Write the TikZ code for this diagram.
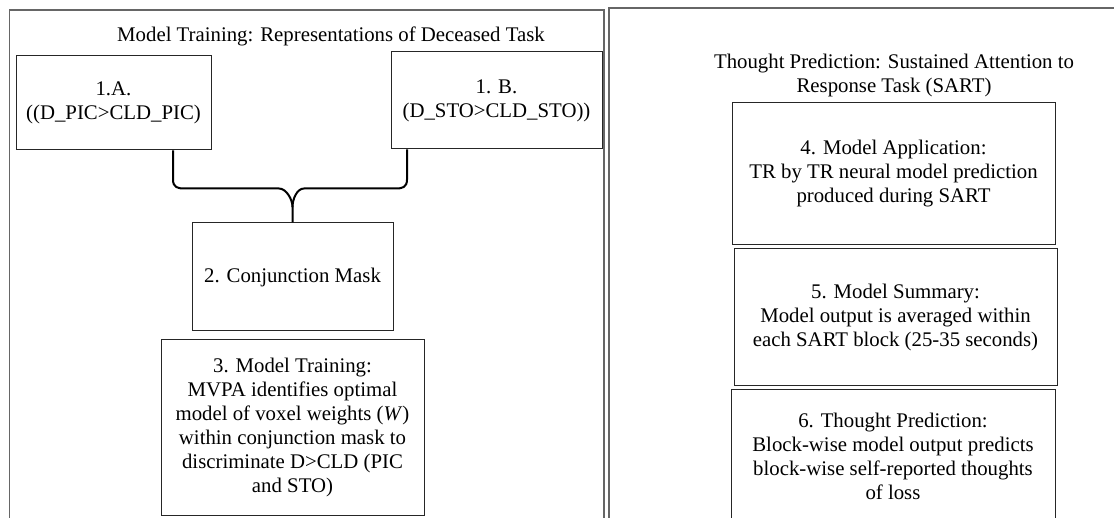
\documentclass[tikz,border=0pt]{standalone}
\usepackage{fontspec}
\setmainfont{Liberation Serif}
\begin{document}
\begin{tikzpicture}[x=1pt,y=-1pt,
  box/.style={draw=black!85,line width=1pt,inner sep=0pt,align=center,
    font=\fontsize{20.8}{24}\selectfont},
  txt/.style={inner sep=0pt,align=center,font=\fontsize{20.8}{24}\selectfont},
  panel/.style={draw=black!60,line width=1.8pt},
  brace/.style={draw=black,line width=2pt}]
\useasboundingbox (0,0) rectangle (1114,518);
\clip (0,0) rectangle (1114,518);
% panels
\draw[panel] (9.5,540) -- (9.5,10) -- (604,10) -- (604,540);
\draw[panel] (609,540) -- (609,8) -- (1130,8);
% left panel
\node[txt] (t1) at (331,36) {Model Training: Representations of Deceased Task};
\node[box,minimum width=195pt,minimum height=94pt] (a1) at (113.5,103)
  {1.A.\\((D\_PIC>CLD\_PIC)};
\node[box,minimum width=211pt,minimum height=97pt] (b1) at (496.5,100.5)
  {1. B.\\(D\_STO>CLD\_STO))};
\node[box,minimum width=201pt,minimum height=108pt] (c2) at (292.5,277)
  {2. Conjunction Mask};
\node[box,minimum width=263pt,minimum height=175pt] (c3) at (292.5,427.5)
  {3. Model Training:\\MVPA identifies optimal\\model of voxel weights (\textit{W})\\within conjunction mask to\\discriminate D>CLD (PIC\\and STO)};
% brace connector
\draw[brace] ([xshift=59.5pt]a1.south) -- ++(0,29)
  .. controls +(0,8) and +(-6,0) .. ++(11,9) -- ++(95,0)
  .. controls +(7,0) and +(0,-8) .. (c2.north |- 0,207) -- (c2.north);
\draw[brace] ([xshift=-89.5pt]b1.south) -- ++(0,30)
  .. controls +(0,8) and +(6,0) .. ++(-11,9) -- ++(-92,0)
  .. controls +(-7,0) and +(0,-8) .. (c2.north |- 0,207);
% right panel
\node[txt] (t2) at (894,75.5) {Thought Prediction: Sustained Attention to\\Response Task (SART)};
\node[box,minimum width=323pt,minimum height=142pt] (d4) at (893.5,174)
  {4. Model Application:\\TR by TR neural model prediction\\produced during SART};
\node[box,minimum width=323pt,minimum height=137pt] (d5) at (895.5,317.5)
  {5. Model Summary:\\Model output is averaged within\\each SART block (25-35 seconds)};
\node[box,minimum width=324pt,minimum height=140pt,text depth=0pt] (d6) at (893,460)
  {};
\node[txt] (d6t) at (893,456)
  {6. Thought Prediction:\\Block-wise model output predicts\\block-wise self-reported thoughts\\of loss};
\end{tikzpicture}
\end{document}
